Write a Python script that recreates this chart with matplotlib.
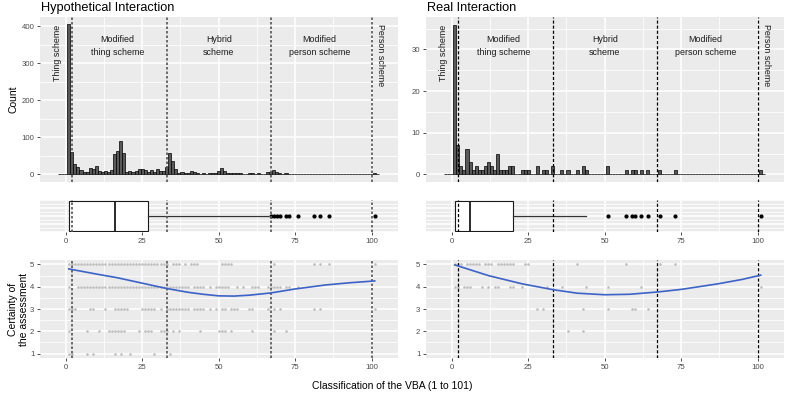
import numpy as np
import matplotlib.pyplot as plt
from matplotlib.ticker import MultipleLocator

plt.rcParams['font.family'] = ['Liberation Sans', 'DejaVu Sans']

# -----------------------------
# Data
# -----------------------------
vba_values = np.arange(1, 102)   # classification 1..101

# histogram counts for VBA = 1..101
hyp_counts = [405, 62, 27, 19, 11, 7, 8, 17, 14, 23,
              10, 7, 10, 8, 12, 55, 63, 90, 57, 8,
              9, 7, 10, 14, 15, 13, 8, 12, 8, 16,
              10, 9, 21, 59, 36, 16, 5, 6, 4, 5,
              9, 6, 5, 2, 4, 2, 5, 3, 5, 10,
              18, 9, 5, 4, 3, 4, 3, 2, 2, 3,
              4, 2, 3, 1, 1, 6, 8, 12, 6, 4,
              2, 3, 2, 1, 0, 2, 1, 0, 0, 0,
              2, 0, 2, 1, 0, 2, 0, 0, 0, 0,
              0, 0, 0, 0, 0, 0, 0, 0, 0, 0,
              4]
real_counts = [36, 7, 2, 1, 6, 3, 1, 2, 1, 1,
               2, 3, 2, 1, 5, 1, 1, 1, 2, 2,
               0, 0, 1, 1, 1, 0, 0, 2, 0, 1,
               1, 0, 2, 0, 0, 1, 0, 1, 0, 0,
               1, 0, 2, 1, 0, 0, 0, 0, 0, 0,
               2, 0, 0, 0, 0, 0, 1, 0, 1, 1,
               0, 1, 0, 1, 0, 0, 0, 1, 0, 0,
               0, 0, 1, 0, 0, 0, 0, 0, 0, 0,
               0, 0, 0, 0, 0, 0, 0, 0, 0, 0,
               0, 0, 0, 0, 0, 0, 0, 0, 0, 0,
               1]

# scheme boundaries (dashed lines)
scheme_bounds = [2, 33, 67, 100]
scheme_labels = ["Modified\nthing scheme", "Hybrid\nscheme", "Modified\nperson scheme"]
scheme_label_x = [17, 50, 83]

# boxplot stats: q1, median, q3, lower whisker, upper whisker
hyp_box = [1, 16, 27, 1, 66]
hyp_outliers = [67, 68, 69, 70, 72, 73, 76, 81, 83, 86, 101]
real_box = [1, 6, 20, 1, 44]
real_outliers = [51, 57, 59, 60, 62, 64, 68, 73, 101]

# certainty of the assessment (1-5) per classification
hyp_cert5 = [1, 2, 3, 4, 5, 6, 7, 8, 9, 10, 11, 12, 13, 14, 15, 16, 17, 18, 19, 20,
             21, 22, 23, 24, 25, 26, 27, 28, 29, 30, 31, 32, 33, 35, 36, 37, 39, 41,
             42, 43, 51, 52, 53, 54, 68, 81, 83, 86, 101]
hyp_cert4 = [1, 4, 5, 6, 7, 8, 9, 10, 11, 12, 13, 14, 15, 16, 17, 18, 19, 20, 21, 22,
             23, 24, 25, 26, 27, 28, 29, 30, 31, 32, 33, 34, 35, 36, 37, 38, 39, 40,
             42, 43, 44, 45, 47, 49, 50, 51, 52, 53, 56, 58, 61, 62, 63, 66, 67, 68,
             69, 70, 72, 73, 76]
hyp_cert3 = [1, 2, 3, 8, 9, 13, 16, 17, 18, 19, 20, 25, 26, 27, 28, 29, 31, 33, 34,
             35, 36, 37, 38, 39, 40, 42, 43, 44, 45, 47, 49, 51, 52, 54, 55, 56, 60,
             61, 66, 68, 70, 81, 83, 101]
hyp_cert2 = [1, 7, 11, 14, 15, 16, 17, 18, 19, 24, 26, 27, 28, 31, 32, 33, 35, 37,
             44, 50, 51, 52, 54, 61, 68, 72]
hyp_cert1 = [1, 2, 7, 9, 16, 18, 21, 29, 34]

real_cert5 = [1, 2, 3, 5, 6, 7, 8, 9, 11, 12, 13, 15, 16, 17, 18, 19, 20, 24, 25,
              41, 57, 68, 73]
real_cert4 = [1, 2, 4, 5, 6, 10, 12, 14, 15, 19, 20, 23, 31, 36, 44, 51, 62, 101]
real_cert3 = [28, 30, 43, 51, 59, 60, 64]
real_cert2 = [38, 43]
real_cert1 = []

# loess trend
hyp_smooth_x = [1, 10, 17, 25, 33, 40, 45, 50, 55, 60, 67, 75, 85, 93, 101]
hyp_smooth_y = [4.80, 4.57, 4.40, 4.16, 3.92, 3.75, 3.66, 3.59, 3.58, 3.62, 3.72,
                3.90, 4.08, 4.18, 4.26]
real_smooth_x = [1, 12, 23, 33, 41, 50, 58, 67, 75, 87, 95, 101]
real_smooth_y = [4.98, 4.50, 4.13, 3.87, 3.71, 3.64, 3.66, 3.76, 3.88, 4.13, 4.33, 4.52]

# -----------------------------
# Helpers
# -----------------------------
W, H = 785, 394
XLIM = (-8.4, 108.6)
TICK_COLOR = "#4D4D4D"


def style_panel(ax):
    ax.set_facecolor("#EBEBEB")
    for s in ax.spines.values():
        s.set_visible(False)
    ax.set_axisbelow(True)
    ax.grid(which="major", color="white", lw=1.1)
    ax.grid(which="minor", color="white", lw=0.55)
    ax.xaxis.set_major_locator(MultipleLocator(25))
    ax.xaxis.set_minor_locator(MultipleLocator(12.5))
    ax.tick_params(which="major", length=2.5, width=0.6, color="#333333",
                   labelsize=5.6, labelcolor=TICK_COLOR, pad=1.5)
    ax.tick_params(which="minor", length=0)
    ax.set_xlim(*XLIM)


def add_bounds(ax, dash_color, dash_lw, dashes):
    for b in scheme_bounds:
        ax.axvline(b, color=dash_color, lw=dash_lw, dashes=dashes, zorder=4)


def draw_column(x0, counts, ymax_step, box, outliers, cert_lists, sm_x, sm_y,
                title, dash_color, dash_lw, dashes):
    left = x0 / W
    width = 358 / W
    ax_h = fig.add_axes([left, 1 - 182 / H, width, 165 / H])
    ax_b = fig.add_axes([left, 1 - 232 / H, width, 32 / H])
    ax_s = fig.add_axes([left, 1 - 358 / H, width, 98 / H])

    # --- histogram ---
    style_panel(ax_h)
    full_x = np.arange(-2, 103)
    full_c = np.zeros(len(full_x))
    full_c[3:104] = counts
    ax_h.bar(full_x, full_c, width=1, color="#595959", edgecolor="black",
             lw=0.5, zorder=3)
    cmax = max(counts)
    ax_h.set_ylim(-0.05 * cmax, 1.05 * cmax)
    ax_h.yaxis.set_major_locator(MultipleLocator(ymax_step))
    ax_h.yaxis.set_minor_locator(MultipleLocator(ymax_step / 2))
    ax_h.tick_params(axis="x", which="both", length=0, labelbottom=False)
    add_bounds(ax_h, dash_color, dash_lw, dashes)
    ax_h.text(-2.7, cmax, "Thing scheme", rotation=90, ha="center", va="top",
              fontsize=6.4, color="#1a1a1a")
    ax_h.text(102.8, cmax, "Person scheme", rotation=270, ha="center", va="top",
              fontsize=6.4, color="#1a1a1a")
    for lx, lab in zip(scheme_label_x, scheme_labels):
        ax_h.text(lx, 0.824, lab, transform=ax_h.get_xaxis_transform(),
                  ha="center", va="center", fontsize=6.4, linespacing=1.45,
                  color="#1a1a1a")

    # --- boxplot ---
    style_panel(ax_b)
    stats = [dict(q1=box[0], med=box[1], q3=box[2], whislo=box[3],
                  whishi=box[4], fliers=outliers)]
    ax_b.bxp(stats, positions=[0], widths=0.78, orientation="horizontal",
             showcaps=False, patch_artist=True,
             boxprops=dict(facecolor="white", edgecolor="#1a1a1a", lw=0.8),
             medianprops=dict(color="#1a1a1a", lw=1.3),
             whiskerprops=dict(color="#333333", lw=0.9),
             flierprops=dict(marker="o", markerfacecolor="black",
                             markeredgecolor="black", markersize=2.0))
    ax_b.set_ylim(-0.4125, 0.4125)
    ax_b.yaxis.set_major_locator(MultipleLocator(0.2))
    ax_b.yaxis.set_minor_locator(MultipleLocator(0.1))
    ax_b.tick_params(axis="y", which="both", length=0, labelleft=False)
    ax_b.set_xlim(*XLIM)
    add_bounds(ax_b, dash_color, dash_lw, dashes)

    # --- certainty scatter ---
    style_panel(ax_s)
    for level, xs in zip([5, 4, 3, 2, 1], cert_lists):
        ax_s.scatter(xs, [level] * len(xs), s=3.5, color="#BDBDBD",
                     linewidths=0, zorder=3)
    ax_s.plot(sm_x, sm_y, color="#3D62C8", lw=1.2, zorder=5)
    ax_s.set_ylim(0.8, 5.2)
    ax_s.yaxis.set_major_locator(MultipleLocator(1))
    ax_s.yaxis.set_minor_locator(MultipleLocator(0.5))
    add_bounds(ax_s, dash_color, dash_lw, dashes)

    fig.text((x0 + 1) / W, 1 - 8 / H, title, fontsize=9.2, va="center",
             ha="left", color="black")
    return ax_h, ax_b, ax_s


fig = plt.figure(figsize=(W / 100, H / 100), dpi=100)

draw_column(40, hyp_counts, 100, hyp_box, hyp_outliers,
            [hyp_cert5, hyp_cert4, hyp_cert3, hyp_cert2, hyp_cert1],
            hyp_smooth_x, hyp_smooth_y, "Hypothetical Interaction",
            "#555555", 1.2, (1.5, 1.2))
draw_column(426, real_counts, 10, real_box, real_outliers,
            [real_cert5, real_cert4, real_cert3, real_cert2, real_cert1],
            real_smooth_x, real_smooth_y, "Real Interaction",
            "black", 0.9, (2.5, 1.6))

fig.text(13.5 / W, 1 - 99.5 / H, "Count", rotation=90, ha="center",
         va="center", fontsize=7.5)
fig.text(18.5 / W, 1 - 309 / H, "Certainty of\nthe assessment", rotation=90,
         ha="center", va="center", fontsize=7.5, linespacing=1.15)
fig.text(0.5, 1 - 386 / H, "Classification of the VBA (1 to 101)",
         ha="center", va="center", fontsize=7.5)

plt.savefig("out.png", dpi=100)
